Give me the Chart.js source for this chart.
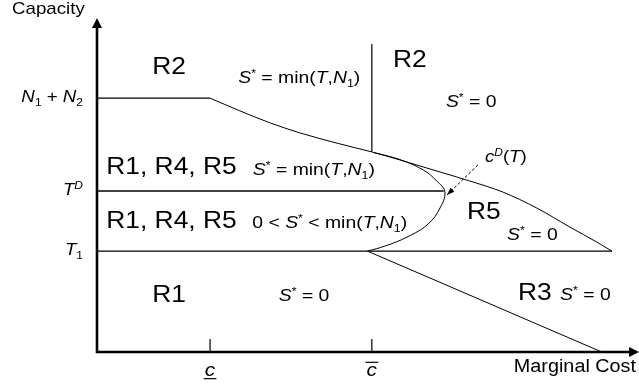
<!DOCTYPE html>
<html>
<head>
<meta charset="utf-8">
<script src="https://cdn.jsdelivr.net/npm/chart.js@4.4.1/dist/chart.umd.min.js"></script>
<style>
  html, body { margin: 0; padding: 0; background: #ffffff; }
  #wrap { width: 639px; height: 387px; }
</style>
</head>
<body>
<div id="wrap"><canvas id="chart"></canvas></div>
<script>
// capacity levels on the vertical axis
const levelNames = ["N12", "TD", "T1"];
const levelValues = [7.6, 4.82, 3.02];

// marginal cost ticks
const costTicks = [2.09, 5.08];

// boundary between R2 and the rest (starts at N1 + N2, falls to T1)
const boundaryX = [2.09, 2.64, 3.2, 3.75, 4.49, 5.08, 5.6, 6.34, 6.89, 7.5, 8.13, 8.74, 9.24, 9.52];
const boundaryY = [7.6, 7.22, 6.86, 6.56, 6.23, 5.99, 5.75, 5.39, 5.12, 4.79, 4.31, 3.74, 3.29, 3.02];

// c^D(T) curve
const cdX = [5.12, 5.6, 6.03, 6.28, 6.43, 6.34, 6.12, 5.73, 5.32, 5.0];
const cdY = [5.97, 5.76, 5.45, 5.12, 4.79, 4.31, 3.83, 3.44, 3.17, 3.02];

// R1 / R3 border
const r3EdgeX = [5.0, 9.33];
const r3EdgeY = [3.02, 0];

// vertical divider at c-bar inside R2
const dividerY = [9.22, 5.99];

// pointer from the c^D(T) label
const pointerX = [7.04, 6.47];
const pointerY = [5.6, 4.7];

const FONT = '"Liberation Sans", Arial, Helvetica, sans-serif';
const STRETCH = 1.1;

function pts(xs, ys) {
  return xs.map((x, i) => ({ x, y: ys[i] }));
}

// rich text: runs of {t, it, sup, sub}, slightly widened
function drawRich(ctx, runs, x, y, size, align, stretch) {
  const k = stretch || STRETCH;
  const parts = runs.map(r => {
    const s = (r.sup || r.sub) ? size * 0.64 : size;
    const font = (r.it ? "italic " : "") + s + "px " + FONT;
    ctx.font = font;
    return {
      t: r.t,
      font,
      w: ctx.measureText(r.t).width,
      dy: r.sup ? -size * 0.36 : r.sub ? size * 0.24 : 0,
      over: r.over,
      under: r.under
    };
  });
  const total = parts.reduce((a, p) => a + p.w, 0) * k;
  const sx = align === "right" ? x - total : align === "center" ? x - total / 2 : x;
  ctx.save();
  ctx.translate(sx, y);
  ctx.scale(k, 1);
  ctx.fillStyle = "#000";
  ctx.textBaseline = "alphabetic";
  ctx.textAlign = "left";
  let cx = 0;
  parts.forEach(p => {
    ctx.font = p.font;
    ctx.fillText(p.t, cx, p.dy);
    if (p.over || p.under) {
      ctx.lineWidth = 1.2;
      ctx.strokeStyle = "#000";
      ctx.beginPath();
      const ly = p.over ? -size * 0.72 : size * 0.14;
      ctx.moveTo(cx - 1, ly);
      ctx.lineTo(cx + p.w + 1, ly);
      ctx.stroke();
    }
    cx += p.w;
  });
  ctx.restore();
}

const S = [{ t: "S", it: true }, { t: "*", sup: true }];
const minTN = [{ t: " = min(" }, { t: "T", it: true }, { t: "," }, { t: "N", it: true }, { t: "1", sub: true }, { t: ")" }];
const sZero = [...S, { t: " = 0" }];

// region labels, anchored in data space (left edge, baseline)
const regionLabels = [
  { x: 1.02, y: 8.32, size: 24, runs: [{ t: "R2" }] },
  { x: 2.61, y: 8.05, size: 17, runs: [...S, ...minTN], k: 1.14 },
  { x: 5.47, y: 8.53, size: 24, runs: [{ t: "R2" }] },
  { x: 6.45, y: 7.34, size: 17, runs: sZero, k: 1.14 },
  { x: 0.17, y: 5.33, size: 24, runs: [{ t: "R1, R4, R5" }] },
  { x: 2.88, y: 5.3, size: 17, runs: [...S, ...minTN], k: 1.14 },
  { x: 0.17, y: 3.71, size: 24, runs: [{ t: "R1, R4, R5" }] },
  { x: 2.87, y: 3.71, size: 17, runs: [{ t: "0 < " }, ...S, { t: " < min(" }, { t: "T", it: true }, { t: "," }, { t: "N", it: true }, { t: "1", sub: true }, { t: ")" }], k: 1.14 },
  { x: 6.84, y: 3.98, size: 24, runs: [{ t: "R5" }] },
  { x: 7.58, y: 3.35, size: 17, runs: sZero, k: 1.14 },
  { x: 7.17, y: 5.69, size: 17, runs: [{ t: "c", it: true }, { t: "D", it: true, sup: true }, { t: "(" }, { t: "T", it: true }, { t: ")" }] },
  { x: 1.02, y: 1.5, size: 24, runs: [{ t: "R1" }] },
  { x: 3.36, y: 1.53, size: 17, runs: sZero, k: 1.14 },
  { x: 7.78, y: 1.56, size: 24, runs: [{ t: "R3" }] },
  { x: 8.56, y: 1.56, size: 17, runs: sZero, k: 1.14 }
];

const levelRuns = {
  N12: [{ t: "N", it: true }, { t: "1", sub: true }, { t: " + " }, { t: "N", it: true }, { t: "2", sub: true }],
  TD: [{ t: "T", it: true }, { t: "D", it: true, sup: true }],
  T1: [{ t: "T", it: true }, { t: "1", sub: true }]
};
const tickRuns = [
  [{ t: "c", it: true, under: true }],
  [{ t: "c", it: true, over: true }]
];

const line = (data, extra) => Object.assign({
  data,
  borderColor: "#000",
  borderWidth: 1,
  pointRadius: 0,
  fill: false
}, extra);

const diagram = {
  id: "diagram",
  afterDatasetsDraw(chart) {
    const { ctx, chartArea, scales } = chart;
    const xs = scales.x, ys = scales.y;
    const x0 = chartArea.left, y0 = chartArea.bottom;
    ctx.save();

    // axes
    ctx.strokeStyle = "#000";
    ctx.fillStyle = "#000";
    ctx.lineWidth = 2.6;
    ctx.beginPath();
    ctx.moveTo(x0, chartArea.top + 6);
    ctx.lineTo(x0, y0);
    ctx.lineTo(chartArea.right - 6, y0);
    ctx.stroke();
    ctx.beginPath();
    ctx.moveTo(x0, chartArea.top);
    ctx.lineTo(x0 - 5, chartArea.top + 10);
    ctx.lineTo(x0 + 5, chartArea.top + 10);
    ctx.closePath();
    ctx.fill();
    ctx.beginPath();
    ctx.moveTo(chartArea.right + 1, y0);
    ctx.lineTo(chartArea.right - 9, y0 - 5);
    ctx.lineTo(chartArea.right - 9, y0 + 5);
    ctx.closePath();
    ctx.fill();

    // cost ticks and their labels
    ctx.lineWidth = 1.2;
    costTicks.forEach((v, i) => {
      const px = xs.getPixelForValue(v);
      ctx.beginPath();
      ctx.moveTo(px, y0);
      ctx.lineTo(px, y0 - 13);
      ctx.stroke();
      drawRich(ctx, tickRuns[i], px, y0 + 24, 19, "center");
    });

    // capacity level labels
    levelNames.forEach((n, i) => {
      const py = ys.getPixelForValue(levelValues[i]);
      drawRich(ctx, levelRuns[n], x0 - 14, py + 4, 17, "right");
    });

    // pointer arrowhead
    const pm = chart.getDatasetMeta(chart.data.datasets.length - 1).data;
    const a = pm[0], b = pm[1];
    const ang = Math.atan2(b.y - a.y, b.x - a.x);
    ctx.beginPath();
    ctx.moveTo(b.x, b.y);
    ctx.lineTo(b.x - 8 * Math.cos(ang - 0.35), b.y - 8 * Math.sin(ang - 0.35));
    ctx.lineTo(b.x - 8 * Math.cos(ang + 0.35), b.y - 8 * Math.sin(ang + 0.35));
    ctx.closePath();
    ctx.fill();

    // region texts
    regionLabels.forEach(l => {
      drawRich(ctx, l.runs, xs.getPixelForValue(l.x), ys.getPixelForValue(l.y), l.size, "left", l.k);
    });

    // axis titles
    drawRich(ctx, [{ t: "Capacity" }], 12, 14, 17, "left");
    drawRich(ctx, [{ t: "Marginal Cost" }], 636, 372, 18, "right");

    ctx.restore();
  }
};

new Chart(document.getElementById("chart"), {
  type: "scatter",
  data: {
    datasets: [
      line([{ x: 0, y: levelValues[0] }, { x: costTicks[0], y: levelValues[0] }], { borderWidth: 1.4, showLine: true }),
      line(pts(boundaryX, boundaryY), { showLine: true, cubicInterpolationMode: "monotone" }),
      line([{ x: 0, y: levelValues[1] }, { x: 6.41, y: levelValues[1] }], { borderWidth: 1.4, showLine: true }),
      line([{ x: 0, y: levelValues[2] }, { x: boundaryX[boundaryX.length - 1], y: levelValues[2] }], { borderWidth: 1.4, showLine: true }),
      line(pts(cdX, cdY), { showLine: true, tension: 0.4 }),
      line(pts(r3EdgeX, r3EdgeY), { showLine: true }),
      line([{ x: costTicks[1], y: dividerY[0] }, { x: costTicks[1], y: dividerY[1] }], { borderWidth: 1.2, showLine: true }),
      line(pts(pointerX, pointerY), { showLine: true, borderDash: [3, 2] })
    ]
  },
  options: {
    responsive: true,
    maintainAspectRatio: false,
    animation: false,
    layout: { padding: { left: 97, right: 1, top: 18, bottom: 35 } },
    plugins: {
      legend: { display: false },
      tooltip: { enabled: false }
    },
    scales: {
      x: { type: "linear", min: 0, max: 10, display: false },
      y: { type: "linear", min: 0, max: 10, display: false }
    }
  },
  plugins: [diagram]
});
</script>
</body>
</html>
